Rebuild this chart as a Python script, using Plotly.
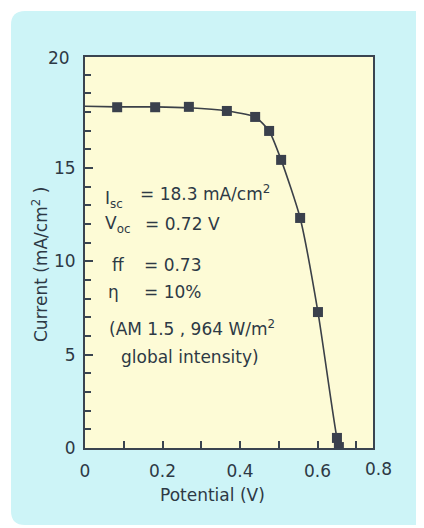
import plotly.graph_objects as go

# ---- data ----
marker_v = [0.083, 0.181, 0.268, 0.366, 0.439, 0.475, 0.506, 0.555, 0.601, 0.650, 0.655]
marker_i = [18.25, 18.25, 18.27, 18.05, 17.73, 16.98, 15.43, 12.32, 7.28, 0.54, 0.05]

curve_v = [0.0, 0.083, 0.181, 0.268, 0.366, 0.439, 0.475, 0.506, 0.555, 0.601, 0.650, 0.658]
curve_i = [18.3, 18.27, 18.27, 18.22, 18.05, 17.73, 16.98, 15.43, 12.32, 7.28, 0.54, 0.0]

x_ticks = [0, 0.2, 0.4, 0.6]
y_ticks = [0, 5, 10, 15]

info_labels = ["I<sub>sc</sub>", "V<sub>oc</sub>", "ff", "η"]
info_values = ["= 18.3 mA/cm<sup>2</sup>", "= 0.72 V", "= 0.73", "= 10%"]
cond_lines = ["(AM 1.5 , 964 W/m<sup>2</sup>", "global intensity)"]

# ---- style ----
OFF = 8                      # page body margin
W, H = 424 - OFF, 528 - OFF
L, R, T, B = 85 - OFF, 51, 57 - OFF, 80
PW, PH = W - L - R, H - T - B
INK = "#2d3945"
AX = "#3a4450"
CYAN = "#cdf4f7"
YEL = "#fdfbd6"
FONT = "DejaVu Sans"


def px(xp):
    return (xp - OFF - L) / PW


def py(yp):
    return (H - B - (yp - OFF)) / PH


def note(text, x, y, size=17, xanchor="left", angle=0):
    return dict(text=text, x=px(x), y=py(y), xref="paper", yref="paper",
                showarrow=False, xanchor=xanchor, yanchor="middle", textangle=angle,
                font=dict(family=FONT, size=size, color=INK))


fig = go.Figure()
fig.add_trace(go.Scatter(x=curve_v, y=curve_i, mode="lines",
                         line=dict(color="#3b4048", width=1.6, shape="spline", smoothing=0.6),
                         hoverinfo="skip", showlegend=False))
fig.add_trace(go.Scatter(x=marker_v, y=marker_i, mode="markers",
                         marker=dict(symbol="square", size=10, color="#3a404c"),
                         showlegend=False))

# background panel (rounded) and plot area
x0, x1 = px(11), px(430)
y0, y1 = py(525), py(11)
rx, ry = 14 / PW, 14 / PH
path = (f"M {x0+rx},{y1} L {x1-rx},{y1} Q {x1},{y1} {x1},{y1-ry} "
        f"L {x1},{y0+ry} Q {x1},{y0} {x1-rx},{y0} L {x0+rx},{y0} "
        f"Q {x0},{y0} {x0},{y0+ry} L {x0},{y1-ry} Q {x0},{y1} {x0+rx},{y1} Z")
fig.add_shape(type="path", path=path, xref="paper", yref="paper",
              fillcolor=CYAN, line=dict(width=0), layer="below")
fig.add_shape(type="rect", x0=0, x1=1, y0=0, y1=1, xref="paper", yref="paper",
              fillcolor=YEL, line=dict(width=0), layer="below")

ann = []
label_pos = [(103, 199), (103, 224), (110, 265), (106, 292)]
value_pos = [(138, 193), (143, 224), (142, 265), (142, 292)]
for t, (xx, yy) in zip(info_labels, label_pos):
    ann.append(note(t, xx, yy))
for t, (xx, yy) in zip(info_values, value_pos):
    ann.append(note(t, xx, yy))
cond_pos = [(107, 328), (119, 357)]
for t, (xx, yy) in zip(cond_lines, cond_pos):
    ann.append(note(t, xx, yy))

# axis titles and end labels
ann.append(note("Potential (V)", 212, 495, xanchor="center"))
ann.append(note("Current (mA/cm<sup>2</sup> )", 40, 265, size=17, xanchor="center", angle=-90))
ann.append(note("0.8", 378, 469, xanchor="center"))
ann.append(note("20", 72, 58, xanchor="right"))

fig.update_layout(
    width=W, height=H, autosize=False,
    margin=dict(l=L, r=R, t=T, b=B),
    paper_bgcolor="white", plot_bgcolor="rgba(0,0,0,0)",
    annotations=ann,
    xaxis=dict(range=[0, 0.743], tickvals=x_ticks, ticks="inside", ticklen=7, tickwidth=1.5,
               tickcolor=AX, showline=True, linewidth=2, linecolor=AX, mirror=True,
               showgrid=False, zeroline=False, ticklabelstandoff=7,
               tickfont=dict(family=FONT, size=17, color=INK),
               minor=dict(dtick=0.1, tick0=0, ticks="inside", ticklen=7, tickwidth=1.5, tickcolor=AX)),
    yaxis=dict(range=[0, 20.94], tickvals=y_ticks, ticks="inside", ticklen=8, tickwidth=1.5,
               tickcolor=AX, showline=True, linewidth=2, linecolor=AX, mirror=True,
               showgrid=False, zeroline=False, ticklabelstandoff=4,
               tickfont=dict(family=FONT, size=17, color=INK),
               minor=dict(dtick=1, tick0=0, ticks="inside", ticklen=6, tickwidth=1.5, tickcolor=AX)),
)

fig.write_html("out.html")
